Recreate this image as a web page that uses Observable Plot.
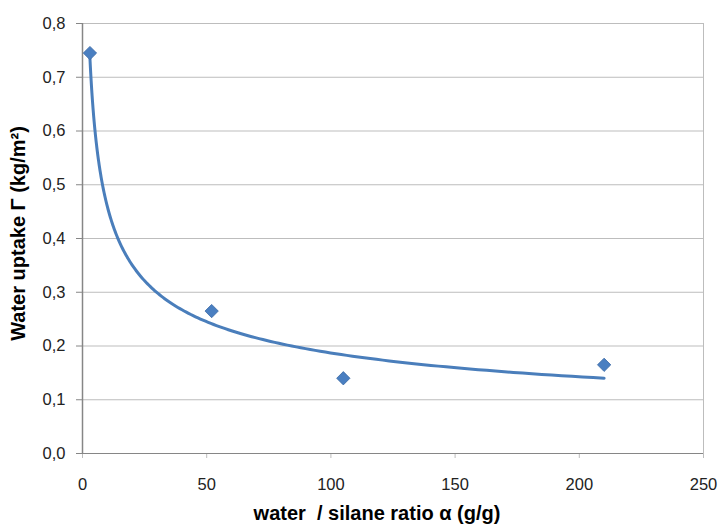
<!DOCTYPE html>
<html>
<head>
<meta charset="utf-8">
<script src="https://cdn.jsdelivr.net/npm/d3@7"></script>
<script src="https://cdn.jsdelivr.net/npm/@observablehq/plot@0.6"></script>
<style>
  body { margin: 0; background: #fff; }
  #chart svg { display: block; }
</style>
</head>
<body>
<div id="chart"></div>
<script>
// Measured data (water/silane ratio α, water uptake Γ)
const ratio = [3, 52, 105, 210];
const uptake = [0.745, 0.265, 0.140, 0.165];
const xTicks = [0, 50, 100, 150, 200, 250];
const yTicks = [0, 0.1, 0.2, 0.3, 0.4, 0.5, 0.6, 0.7, 0.8];

const points = ratio.map((x, i) => ({x, y: uptake[i]}));

// Power trendline (least squares on ln x, ln y), like the spreadsheet's trendline
const lx = ratio.map(Math.log), ly = uptake.map(Math.log);
const mx = d3.mean(lx), my = d3.mean(ly);
const b = d3.sum(lx.map((v, i) => (v - mx) * (ly[i] - my))) / d3.sum(lx.map(v => (v - mx) ** 2));
const a = Math.exp(my - b * mx);
const xMin = d3.min(ratio), xMax = d3.max(ratio);
const trend = d3.range(0, 201).map(i => {
  const x = xMin * Math.pow(xMax / xMin, i / 200);
  return {x, y: a * Math.pow(x, b)};
});

const fmt = d => d.toFixed(1).replace(".", ",");
const font = "'Liberation Sans', Arial, sans-serif";

const chart = Plot.plot({
  width: 720,
  height: 525,
  marginLeft: 82,
  marginRight: 17,
  marginTop: 23,
  marginBottom: 72,
  style: {fontFamily: font, fontSize: "16px", color: "#222", background: "#fff"},
  x: {domain: [0, 250]},
  y: {domain: [0, 0.8]},
  marks: [
    Plot.ruleY(yTicks.slice(1), {stroke: "#bdbdbd", strokeWidth: 1}),
    Plot.ruleX([250], {stroke: "#bdbdbd", strokeWidth: 1}),
    Plot.axisY(yTicks, {tickFormat: fmt, tickSize: 6, tickPadding: 11, stroke: "#868686", fontSize: 16.5, label: null}),
    Plot.axisX(xTicks, {tickSize: 5, tickPadding: 20, stroke: "#bdbdbd", fontSize: 16.5, label: null}),
    Plot.ruleX([0], {stroke: "#868686", strokeWidth: 1.5}),
    Plot.ruleY([0], {stroke: "#868686", strokeWidth: 1.2}),
    Plot.line(trend, {x: "x", y: "y", stroke: "#4a7ebb", strokeWidth: 3, curve: "linear"}),
    Plot.dot(points, {x: "x", y: "y", symbol: "diamond2", r: 6, fill: "#4a7fc1", stroke: "#3a68a4", strokeWidth: 0.8}),
    Plot.text(["Water uptake Γ (kg/m²)"], {frameAnchor: "left", textAnchor: "middle", dx: -64, dy: -5, rotate: -90, fontWeight: "bold", fontSize: 20, fill: "#000"}),
    Plot.text(["water  / silane ratio α (g/g)"], {frameAnchor: "bottom", textAnchor: "middle", dx: -16, dy: 66, fontWeight: "bold", fontSize: 20, fill: "#000"})
  ]
});
document.getElementById("chart").appendChild(chart);
</script>
</body>
</html>
